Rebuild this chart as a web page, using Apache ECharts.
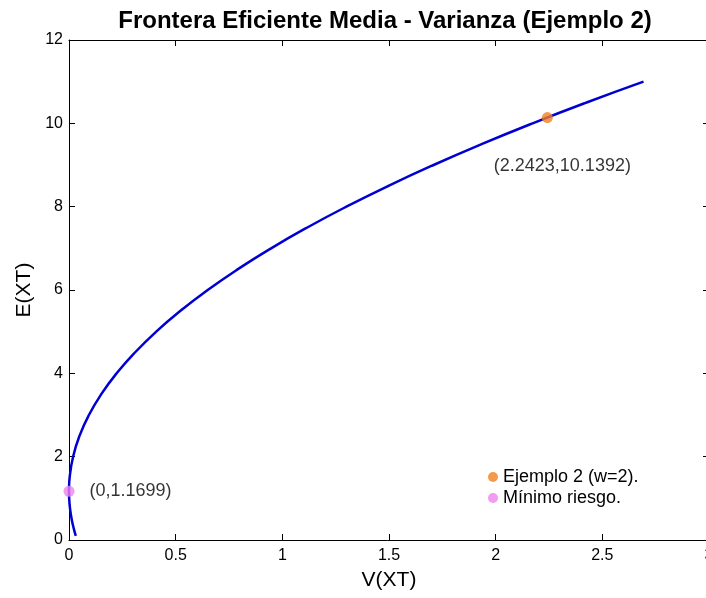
<!DOCTYPE html>
<html>
<head>
<meta charset="utf-8">
<script src="https://cdn.jsdelivr.net/npm/echarts@6/dist/echarts.min.js"></script>
<style>html,body{margin:0;padding:0;background:#fff;}#c{width:706px;height:598px;}</style>
</head>
<body>
<div id="c"></div>
<script>
// Frontier points: variance V(XT) and expected value E(XT)
const frontierE = [0.1, 0.25, 0.5, 0.75, 1.0, 1.1699, 1.25, 1.5, 2.0, 2.5, 3.0, 3.5, 4.0, 4.5, 5.0, 5.5, 6.0, 6.5, 7.0, 7.5, 8.0, 8.5, 9.0, 9.5, 10.0, 10.5, 11.0];
const frontierV = [0.0319, 0.0236, 0.0125, 0.0049, 0.0008, 0.0, 0.0002, 0.0030, 0.0192, 0.0493, 0.0933, 0.1513, 0.2232, 0.3091, 0.4088, 0.5226, 0.6502, 0.7918, 0.9473, 1.1168, 1.3002, 1.4975, 1.7088, 1.9339, 2.1731, 2.4262, 2.6931];
const examplePoint = [2.2423, 10.1392];
const minRiskPoint = [0, 1.1699];
const exampleName = 'Ejemplo 2 (w=2).';
const minRiskName = 'Mínimo riesgo.';
const xTicks = [0, 0.5, 1, 1.5, 2, 2.5, 3];
const yTicks = [0, 2, 4, 6, 8, 10, 12];

const font = 'Liberation Sans, Arial, sans-serif';
const chart = echarts.init(document.getElementById('c'), null, {renderer: 'canvas'});
const frontier = frontierV.map((v, i) => [v, frontierE[i]]);

const axisCommon = {
  axisLine: {show: true, onZero: false, lineStyle: {color: '#000', width: 1}},
  axisTick: {show: true, inside: true, length: 6, lineStyle: {color: '#000'}},
  splitLine: {show: false}
};

chart.setOption({
  backgroundColor: '#fff',
  animation: false,
  title: {
    text: 'Frontera Eficiente Media - Varianza (Ejemplo 2)',
    left: 380, top: 4, textAlign: 'center',
    textStyle: {fontFamily: font, fontSize: 24, fontWeight: 'bold', color: '#000'}
  },
  grid: {left: 69, width: 640, top: 40, height: 500, containLabel: false, outerBoundsMode: 'none'},
  legend: {
    orient: 'vertical', left: 483, top: 463, itemGap: 3,
    itemWidth: 10, itemHeight: 10, icon: 'circle',
    textStyle: {fontFamily: font, fontSize: 18, color: '#000'},
    data: [exampleName, minRiskName]
  },
  xAxis: [
    Object.assign({}, axisCommon, {
      type: 'value', min: xTicks[0], max: xTicks[xTicks.length - 1], interval: 0.5,
      name: 'V(XT)', nameLocation: 'middle', nameGap: 30,
      nameTextStyle: {fontFamily: font, fontSize: 21, color: '#000'},
      axisLabel: {fontFamily: font, fontSize: 16, color: '#000', margin: 8}
    }),
    Object.assign({}, axisCommon, {
      type: 'value', position: 'top', min: xTicks[0], max: xTicks[xTicks.length - 1], interval: 0.5,
      axisLabel: {show: false}
    })
  ],
  yAxis: [
    Object.assign({}, axisCommon, {
      type: 'value', min: yTicks[0], max: yTicks[yTicks.length - 1], interval: 2,
      name: 'E(XT)', nameLocation: 'middle', nameGap: 34,
      nameTextStyle: {fontFamily: font, fontSize: 21, color: '#000'},
      axisLabel: {fontFamily: font, fontSize: 16, color: '#000', margin: 6}
    }),
    Object.assign({}, axisCommon, {
      type: 'value', position: 'right', min: yTicks[0], max: yTicks[yTicks.length - 1], interval: 2,
      axisLabel: {show: false}
    })
  ],
  series: [
    {
      type: 'line', name: 'frontier', data: frontier, smooth: true, showSymbol: false,
      lineStyle: {color: '#0000d0', width: 2.5}, z: 2
    },
    {
      type: 'scatter', name: exampleName, data: [examplePoint], symbolSize: 11,
      itemStyle: {color: '#f47f1f'}, z: 3,
      label: {show: true, formatter: '(2.2423,10.1392)', position: 'inside', offset: [15, 48],
        fontFamily: font, fontSize: 18, color: '#000'}
    },
    {
      type: 'scatter', name: minRiskName, data: [minRiskPoint], symbolSize: 11,
      itemStyle: {color: '#ee82ee'}, z: 3,
      label: {show: true, formatter: '(0,1.1699)', position: 'right', distance: 15,
        fontFamily: font, fontSize: 18, color: '#000'}
    }
  ]
});
</script>
</body>
</html>
